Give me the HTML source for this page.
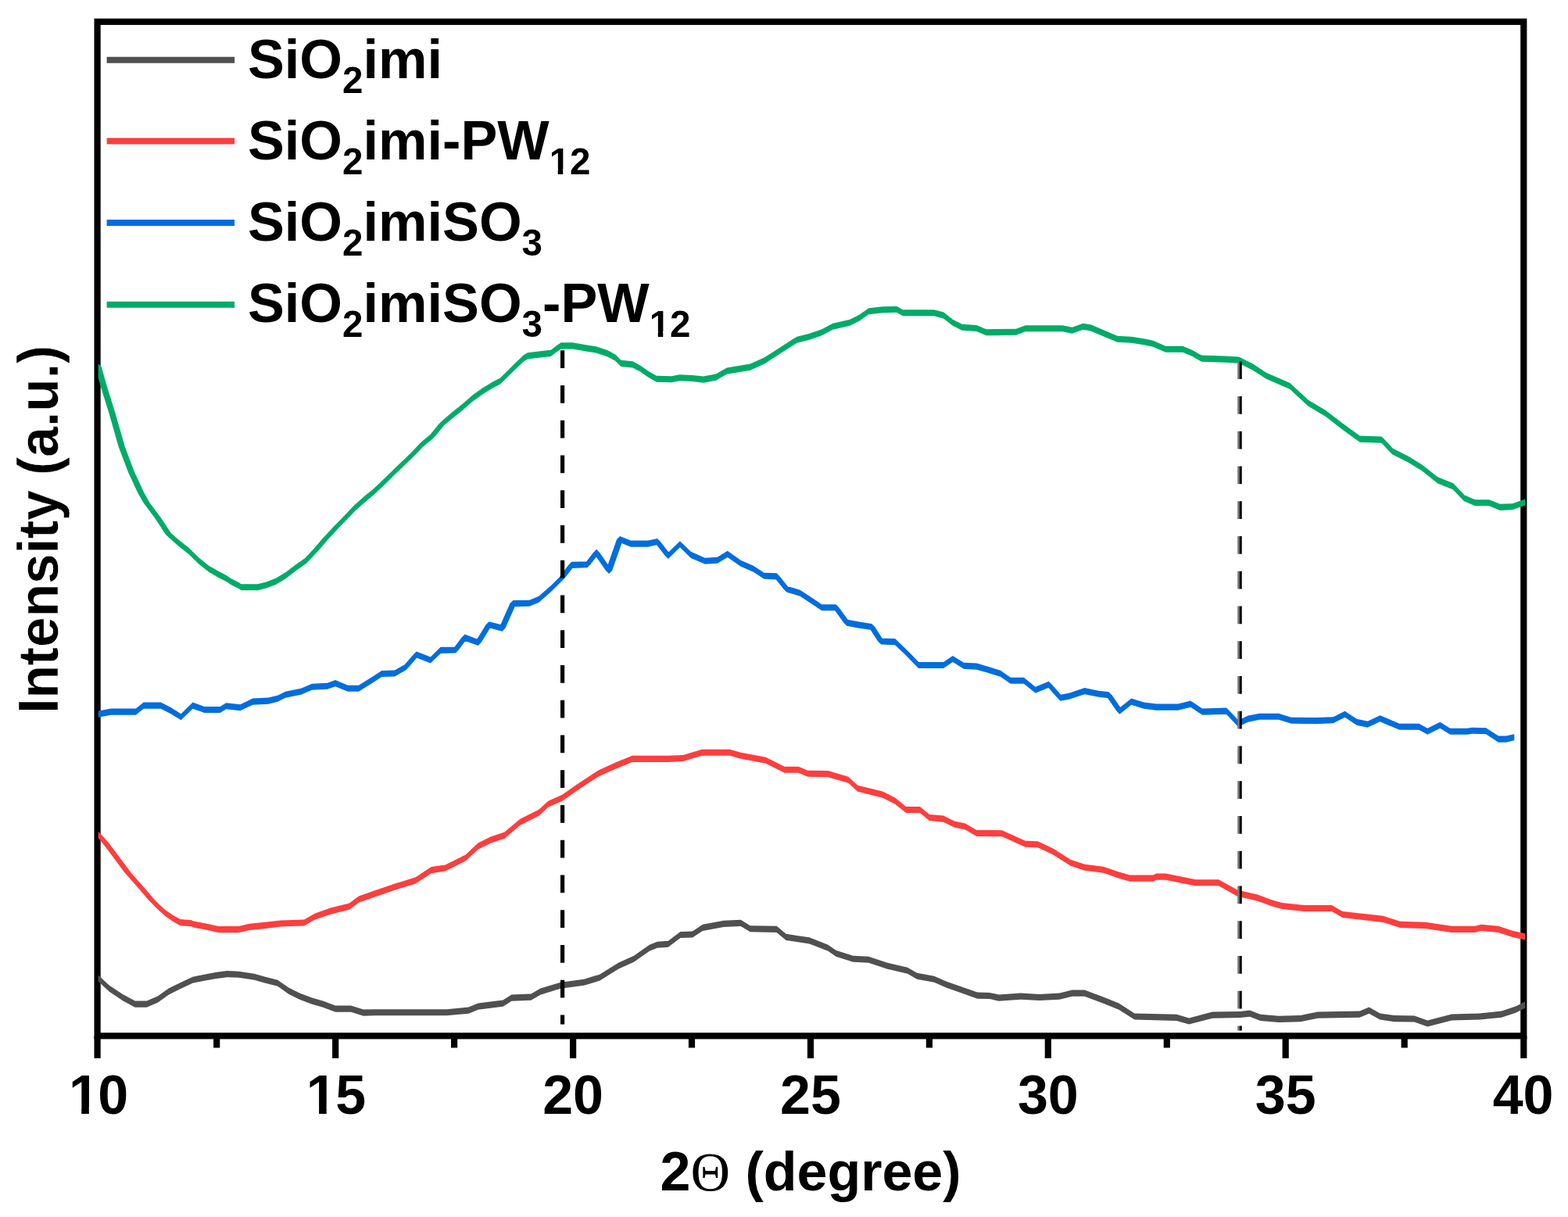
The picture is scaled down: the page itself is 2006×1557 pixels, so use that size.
<!DOCTYPE html>
<html lang="en"><head><meta charset="utf-8"><title>XRD patterns</title>
<style>html,body{margin:0;padding:0;background:#fff;}body{width:2006px;height:1557px;overflow:hidden;}svg{display:block;}text{font-family:"Liberation Sans",sans-serif;font-weight:bold;fill:#000;}</style></head><body>
<svg width="2006" height="1557" viewBox="0 0 2006 1557">
<rect x="0" y="0" width="2006" height="1557" fill="#ffffff"/>
<defs><clipPath id="nofoot" clipPathUnits="userSpaceOnUse"><path clip-rule="evenodd" fill-rule="evenodd" d="M0 0H2006V1557H0Z M704.14 216.35H713.74V225.20H704.14Z M720.26 216.35H729.25V225.20H720.26Z M832.14 424.05H841.74V432.90H832.14Z M848.26 424.05H857.25V432.90H848.26Z M90.79 1416.16H104.22V1427.30H90.79Z M113.83 1416.16H126.37V1427.30H113.83Z M394.67 1416.16H408.10V1427.30H394.67Z M417.71 1416.16H430.25V1427.30H417.71Z"/></clipPath></defs>
<rect x="124.6" y="27.8" width="1824.7" height="1297.5" fill="none" stroke="#000" stroke-width="8.2"/>
<g stroke="#000" stroke-width="8.2">
<line x1="124.6" y1="1325.3" x2="124.6" y2="1353.9"/>
<line x1="277.2" y1="1325.3" x2="277.2" y2="1340.5"/>
<line x1="429.2" y1="1325.3" x2="429.2" y2="1353.9"/>
<line x1="581.1" y1="1325.3" x2="581.1" y2="1340.5"/>
<line x1="733.1" y1="1325.3" x2="733.1" y2="1353.9"/>
<line x1="885.0" y1="1325.3" x2="885.0" y2="1340.5"/>
<line x1="1037.0" y1="1325.3" x2="1037.0" y2="1353.9"/>
<line x1="1188.9" y1="1325.3" x2="1188.9" y2="1340.5"/>
<line x1="1340.8" y1="1325.3" x2="1340.8" y2="1353.9"/>
<line x1="1492.8" y1="1325.3" x2="1492.8" y2="1340.5"/>
<line x1="1644.7" y1="1325.3" x2="1644.7" y2="1353.9"/>
<line x1="1796.7" y1="1325.3" x2="1796.7" y2="1340.5"/>
<line x1="1949.3" y1="1325.3" x2="1949.3" y2="1353.9"/>
</g>
<g stroke="none" fill-rule="nonzero">
<clipPath id="clip-gray" clipPathUnits="userSpaceOnUse"><rect x="125.7" y="0" width="1825.3" height="1557"/></clipPath>
<path fill="#505050" clip-path="url(#clip-gray)" d="M121.65 1251.56L125.7 1247.51L125.9 1247.65L129.95 1251.7L125.9 1255.75L125.7 1255.61ZM121.85 1251.7L125.9 1247.65L139.9 1260.65L143.95 1264.7L139.9 1268.75L125.9 1255.75ZM135.85 1264.7L139.9 1260.65L157.8 1272.55L161.85 1276.6L157.8 1280.65L139.9 1268.75ZM153.75 1276.6L157.8 1272.55L172.8 1280.55L176.85 1284.6L172.8 1288.65L157.8 1280.65ZM168.75 1284.6L172.8 1280.55L187.7 1280.55L191.75 1284.6L187.7 1288.65L172.8 1288.65ZM183.65 1284.6L187.7 1280.55L201.7 1274.55L205.75 1278.6L201.7 1282.65L187.7 1288.65ZM197.65 1278.6L201.7 1274.55L215.7 1264.55L219.75 1268.6L215.7 1272.65L201.7 1282.65ZM211.65 1268.6L215.7 1264.55L231.6 1256.65L235.65 1260.7L231.6 1264.75L215.7 1272.65ZM227.55 1260.7L231.6 1256.65L246.6 1249.65L250.65 1253.7L246.6 1257.75L231.6 1264.75ZM242.55 1253.7L246.6 1249.65L261.5 1246.65L265.55 1250.7L261.5 1254.75L246.6 1257.75ZM257.45 1250.7L261.5 1246.65L275.5 1244.05L279.55 1248.1L275.5 1252.15L261.5 1254.75ZM271.45 1248.1L275.5 1244.05L290.4 1242.05L294.45 1246.1L290.4 1250.15L275.5 1252.15ZM286.35 1246.1L290.4 1242.05L305.4 1242.65L309.45 1246.7L305.4 1250.75L290.4 1250.15ZM301.35 1246.7L305.4 1242.65L325.3 1245.65L329.35 1249.7L325.3 1253.75L305.4 1250.75ZM321.25 1249.7L325.3 1245.65L339.3 1249.65L343.35 1253.7L339.3 1257.75L325.3 1253.75ZM335.25 1253.7L339.3 1249.65L355.2 1253.65L359.25 1257.7L355.2 1261.75L339.3 1257.75ZM351.15 1257.7L355.2 1253.65L369.2 1263.55L373.25 1267.6L369.2 1271.65L355.2 1261.75ZM365.15 1267.6L369.2 1263.55L383.2 1270.55L387.25 1274.6L383.2 1278.65L369.2 1271.65ZM379.15 1274.6L383.2 1270.55L399.1 1276.55L403.15 1280.6L399.1 1284.65L383.2 1278.65ZM395.05 1280.6L399.1 1276.55L413.1 1280.55L417.15 1284.6L413.1 1288.65L399.1 1284.65ZM409.05 1284.6L413.1 1280.55L429 1286.55L433.05 1290.6L429 1294.65L413.1 1288.65ZM424.95 1290.6L429 1286.55L449 1286.55L453.05 1290.6L449 1294.65L429 1294.65ZM444.95 1290.6L449 1286.55L464.9 1291.55L468.95 1295.6L464.9 1299.65L449 1294.65ZM460.85 1295.6L464.9 1291.55L480 1291.15L484.05 1295.2L480 1299.25L464.9 1299.65ZM475.95 1295.2L480 1291.15L571.7 1291.15L575.75 1295.2L571.7 1299.25L480 1299.25ZM567.65 1295.2L571.7 1291.15L599.6 1288.55L603.65 1292.6L599.6 1296.65L571.7 1299.25ZM595.55 1292.6L599.6 1288.55L611.6 1283.55L615.65 1287.6L611.6 1291.65L599.6 1296.65ZM607.55 1287.6L611.6 1283.55L643.5 1279.55L647.55 1283.6L643.5 1287.65L611.6 1291.65ZM639.45 1283.6L643.5 1279.55L654.5 1272.55L658.55 1276.6L654.5 1280.65L643.5 1287.65ZM650.45 1276.6L654.5 1272.55L679.4 1271.55L683.45 1275.6L679.4 1279.65L654.5 1280.65ZM675.35 1275.6L679.4 1271.55L691.4 1264.55L695.45 1268.6L691.4 1272.65L679.4 1279.65ZM687.35 1268.6L691.4 1264.55L717.3 1256.65L721.35 1260.7L717.3 1264.75L691.4 1272.65ZM713.25 1260.7L717.3 1256.65L747.2 1252.65L751.25 1256.7L747.2 1260.75L717.3 1264.75ZM743.15 1256.7L747.2 1252.65L767.1 1246.65L771.15 1250.7L767.1 1254.75L747.2 1260.75ZM763.05 1250.7L767.1 1246.65L791.1 1231.65L795.15 1235.7L791.1 1239.75L767.1 1254.75ZM787.05 1235.7L791.1 1231.65L811 1222.75L815.05 1226.8L811 1230.85L791.1 1239.75ZM806.95 1226.8L811 1222.75L830.9 1208.75L834.95 1212.8L830.9 1216.85L811 1230.85ZM826.85 1212.8L830.9 1208.75L840.9 1204.75L844.95 1208.8L840.9 1212.85L830.9 1216.85ZM836.85 1208.8L840.9 1204.75L854.9 1203.75L858.95 1207.8L854.9 1211.85L840.9 1212.85ZM850.85 1207.8L854.9 1203.75L870.4 1191.95L874.45 1196L870.4 1200.05L854.9 1211.85ZM866.35 1196L870.4 1191.95L885.9 1191.45L889.95 1195.5L885.9 1199.55L870.4 1200.05ZM881.85 1195.5L885.9 1191.45L898.9 1182.85L902.95 1186.9L898.9 1190.95L885.9 1199.55ZM894.85 1186.9L898.9 1182.85L925.8 1177.85L929.85 1181.9L925.8 1185.95L898.9 1190.95ZM921.75 1181.9L925.8 1177.85L947.7 1176.85L951.75 1180.9L947.7 1184.95L925.8 1185.95ZM943.65 1180.9L947.7 1176.85L959.7 1184.25L963.75 1188.3L959.7 1192.35L947.7 1184.95ZM955.65 1188.3L959.7 1184.25L993.6 1184.85L997.65 1188.9L993.6 1192.95L959.7 1192.35ZM989.55 1188.9L993.6 1184.85L1005.6 1194.85L1009.65 1198.9L1005.6 1202.95L993.6 1192.95ZM1001.55 1198.9L1005.6 1194.85L1035.5 1199.35L1039.55 1203.4L1035.5 1207.45L1005.6 1202.95ZM1031.45 1203.4L1035.5 1199.35L1059.4 1208.75L1063.45 1212.8L1059.4 1216.85L1035.5 1207.45ZM1055.35 1212.8L1059.4 1208.75L1069.4 1215.75L1073.45 1219.8L1069.4 1223.85L1059.4 1216.85ZM1065.35 1219.8L1069.4 1215.75L1091.3 1222.75L1095.35 1226.8L1091.3 1230.85L1069.4 1223.85ZM1087.25 1226.8L1091.3 1222.75L1111.2 1223.75L1115.25 1227.8L1111.2 1231.85L1091.3 1230.85ZM1107.15 1227.8L1111.2 1223.75L1135.2 1231.65L1139.25 1235.7L1135.2 1239.75L1111.2 1231.85ZM1131.15 1235.7L1135.2 1231.65L1161.1 1237.65L1165.15 1241.7L1161.1 1245.75L1135.2 1239.75ZM1157.05 1241.7L1161.1 1237.65L1173.1 1244.65L1177.15 1248.7L1173.1 1252.75L1161.1 1245.75ZM1169.05 1248.7L1173.1 1244.65L1195 1248.65L1199.05 1252.7L1195 1256.75L1173.1 1252.75ZM1190.95 1252.7L1195 1248.65L1211 1255.65L1215.05 1259.7L1211 1263.75L1195 1256.75ZM1206.95 1259.7L1211 1255.65L1250.4 1269.55L1254.45 1273.6L1250.4 1277.65L1211 1263.75ZM1246.35 1273.6L1250.4 1269.55L1265.9 1269.95L1269.95 1274L1265.9 1278.05L1250.4 1277.65ZM1261.85 1274L1265.9 1269.95L1277.9 1272.55L1281.95 1276.6L1277.9 1280.65L1265.9 1278.05ZM1273.85 1276.6L1277.9 1272.55L1305.8 1270.55L1309.85 1274.6L1305.8 1278.65L1277.9 1280.65ZM1301.75 1274.6L1305.8 1270.55L1329.7 1271.95L1333.75 1276L1329.7 1280.05L1305.8 1278.65ZM1325.65 1276L1329.7 1271.95L1355.7 1270.55L1359.75 1274.6L1355.7 1278.65L1329.7 1280.05ZM1351.65 1274.6L1355.7 1270.55L1371.6 1266.55L1375.65 1270.6L1371.6 1274.65L1355.7 1278.65ZM1367.55 1270.6L1371.6 1266.55L1387.6 1266.55L1391.65 1270.6L1387.6 1274.65L1371.6 1274.65ZM1383.55 1270.6L1387.6 1266.55L1411.5 1275.55L1415.55 1279.6L1411.5 1283.65L1387.6 1274.65ZM1407.45 1279.6L1411.5 1275.55L1431.4 1283.55L1435.45 1287.6L1431.4 1291.65L1411.5 1283.65ZM1427.35 1287.6L1431.4 1283.55L1451.4 1296.45L1455.45 1300.5L1451.4 1304.55L1431.4 1291.65ZM1447.35 1300.5L1451.4 1296.45L1505.2 1297.85L1509.25 1301.9L1505.2 1305.95L1451.4 1304.55ZM1501.15 1301.9L1505.2 1297.85L1521.2 1302.45L1525.25 1306.5L1521.2 1310.55L1505.2 1305.95ZM1517.15 1306.5L1521.2 1302.45L1551.1 1294.55L1555.15 1298.6L1551.1 1302.65L1521.2 1310.55ZM1547.05 1298.6L1551.1 1294.55L1587 1293.95L1591.05 1298L1587 1302.05L1551.1 1302.65ZM1582.95 1298L1587 1293.95L1598.9 1292.55L1602.95 1296.6L1598.9 1300.65L1587 1302.05ZM1594.85 1296.6L1598.9 1292.55L1612.5 1297.85L1616.55 1301.9L1612.5 1305.95L1598.9 1300.65ZM1608.45 1301.9L1612.5 1297.85L1635.9 1299.85L1639.95 1303.9L1635.9 1307.95L1612.5 1305.95ZM1631.85 1303.9L1635.9 1299.85L1663.8 1299.05L1667.85 1303.1L1663.8 1307.15L1635.9 1307.95ZM1659.75 1303.1L1663.8 1299.05L1685.7 1294.55L1689.75 1298.6L1685.7 1302.65L1663.8 1307.15ZM1681.65 1298.6L1685.7 1294.55L1739.6 1293.55L1743.65 1297.6L1739.6 1301.65L1685.7 1302.65ZM1735.55 1297.6L1739.6 1293.55L1751.5 1288.55L1755.55 1292.6L1751.5 1296.65L1739.6 1301.65ZM1747.45 1292.6L1751.5 1288.55L1765.5 1296.45L1769.55 1300.5L1765.5 1304.55L1751.5 1296.65ZM1761.45 1300.5L1765.5 1296.45L1783.5 1299.05L1787.55 1303.1L1783.5 1307.15L1765.5 1304.55ZM1779.45 1303.1L1783.5 1299.05L1809.4 1299.45L1813.45 1303.5L1809.4 1307.55L1783.5 1307.15ZM1805.35 1303.5L1809.4 1299.45L1826.3 1305.45L1830.35 1309.5L1826.3 1313.55L1809.4 1307.55ZM1822.25 1309.5L1826.3 1305.45L1857.2 1297.45L1861.25 1301.5L1857.2 1305.55L1826.3 1313.55ZM1853.15 1301.5L1857.2 1297.45L1893.1 1296.45L1897.15 1300.5L1893.1 1304.55L1857.2 1305.55ZM1889.05 1300.5L1893.1 1296.45L1921 1293.55L1925.05 1297.6L1921 1301.65L1893.1 1304.55ZM1916.95 1297.6L1921 1293.55L1939 1287.55L1943.05 1291.6L1939 1295.65L1921 1301.65ZM1934.95 1291.6L1939 1287.55L1949 1282.55L1953.05 1286.6L1949 1290.65L1939 1295.65ZM1944.95 1286.6L1949 1282.55L1951 1281.55L1955.05 1285.6L1951 1289.65L1949 1290.65Z"/>
<clipPath id="clip-red" clipPathUnits="userSpaceOnUse"><rect x="125.7" y="0" width="1825.3" height="1557"/></clipPath>
<path fill="#FC3E3E" clip-path="url(#clip-red)" d="M121.75 1067.9L125.8 1063.85L129.85 1067.9L138.35 1077.5L134.3 1081.55L130.25 1077.5ZM130.25 1077.5L134.3 1073.45L138.35 1077.5L147.95 1090L143.9 1094.05L139.85 1090ZM139.85 1090L143.9 1085.95L147.95 1090L157.55 1103L153.5 1107.05L149.45 1103ZM149.45 1103L153.5 1098.95L157.55 1103L167.25 1116L163.2 1120.05L159.15 1116ZM159.15 1116L163.2 1111.95L167.25 1116L176.85 1127.1L172.8 1131.15L168.75 1127.1ZM168.75 1127.1L172.8 1123.05L176.85 1127.1L186.45 1137.7L182.4 1141.75L178.35 1137.7ZM178.35 1137.7L182.4 1133.65L186.45 1137.7L196.15 1149.2L192.1 1153.25L188.05 1149.2ZM188.05 1149.2L192.1 1145.15L196.15 1149.2L205.75 1159.3L201.7 1163.35L197.65 1159.3ZM197.65 1159.3L201.7 1155.25L211.3 1163.95L215.35 1168L211.3 1172.05L201.7 1163.35ZM207.25 1168L211.3 1163.95L221 1170.75L225.05 1174.8L221 1178.85L211.3 1172.05ZM216.95 1174.8L221 1170.75L230.6 1176.05L234.65 1180.1L230.6 1184.15L221 1178.85ZM226.55 1180.1L230.6 1176.05L245 1177.15L249.05 1181.2L245 1185.25L230.6 1184.15ZM240.95 1181.2L245 1177.15L247.6 1178.45L251.65 1182.5L247.6 1186.55L245 1185.25ZM243.55 1182.5L247.6 1178.45L263.5 1181.45L267.55 1185.5L263.5 1189.55L247.6 1186.55ZM259.45 1185.5L263.5 1181.45L279.5 1185.05L283.55 1189.1L279.5 1193.15L263.5 1189.55ZM275.45 1189.1L279.5 1185.05L305.4 1185.05L309.45 1189.1L305.4 1193.15L279.5 1193.15ZM301.35 1189.1L305.4 1185.05L319.3 1181.85L323.35 1185.9L319.3 1189.95L305.4 1193.15ZM315.25 1185.9L319.3 1181.85L339.3 1179.85L343.35 1183.9L339.3 1187.95L319.3 1189.95ZM335.25 1183.9L339.3 1179.85L359.2 1177.45L363.25 1181.5L359.2 1185.55L339.3 1187.95ZM355.15 1181.5L359.2 1177.45L389.1 1176.45L393.15 1180.5L389.1 1184.55L359.2 1185.55ZM385.05 1180.5L389.1 1176.45L403.1 1168.45L407.15 1172.5L403.1 1176.55L389.1 1184.55ZM399.05 1172.5L403.1 1168.45L423 1161.55L427.05 1165.6L423 1169.65L403.1 1176.55ZM418.95 1165.6L423 1161.55L447 1155.55L451.05 1159.6L447 1163.65L423 1169.65ZM442.95 1159.6L447 1155.55L458.9 1146.55L462.95 1150.6L458.9 1154.65L447 1163.65ZM454.85 1150.6L458.9 1146.55L478.9 1139.55L482.95 1143.6L478.9 1147.65L458.9 1154.65ZM474.85 1143.6L478.9 1139.55L505.9 1130.35L509.95 1134.4L505.9 1138.45L478.9 1147.65ZM501.85 1134.4L505.9 1130.35L531.8 1122.35L535.85 1126.4L531.8 1130.45L505.9 1138.45ZM527.75 1126.4L531.8 1122.35L551.8 1109.05L555.85 1113.1L551.8 1117.15L531.8 1130.45ZM547.75 1113.1L551.8 1109.05L569.7 1106.45L573.75 1110.5L569.7 1114.55L551.8 1117.15ZM565.65 1110.5L569.7 1106.45L595.7 1093.45L599.75 1097.5L595.7 1101.55L569.7 1114.55ZM591.65 1097.5L595.7 1093.45L611.6 1078.55L615.65 1082.6L611.6 1086.65L595.7 1101.55ZM607.55 1082.6L611.6 1078.55L627.6 1070.55L631.65 1074.6L627.6 1078.65L611.6 1086.65ZM623.55 1074.6L627.6 1070.55L645.5 1064.55L649.55 1068.6L645.5 1072.65L627.6 1078.65ZM641.45 1068.6L645.5 1064.55L665.4 1047.65L669.45 1051.7L665.4 1055.75L645.5 1072.65ZM661.35 1051.7L665.4 1047.65L689.4 1035.65L693.45 1039.7L689.4 1043.75L665.4 1055.75ZM685.35 1039.7L689.4 1035.65L701.3 1024.65L705.35 1028.7L701.3 1032.75L689.4 1043.75ZM697.25 1028.7L701.3 1024.65L719.3 1016.75L723.35 1020.8L719.3 1024.85L701.3 1032.75ZM715.25 1020.8L719.3 1016.75L739.2 1002.75L743.25 1006.8L739.2 1010.85L719.3 1024.85ZM735.15 1006.8L739.2 1002.75L765.1 985.75L769.15 989.8L765.1 993.85L739.2 1010.85ZM761.05 989.8L765.1 985.75L789.1 974.85L793.15 978.9L789.1 982.95L765.1 993.85ZM785.05 978.9L789.1 974.85L809 966.85L813.05 970.9L809 974.95L789.1 982.95ZM804.95 970.9L809 966.85L854.9 966.85L858.95 970.9L854.9 974.95L809 974.95ZM850.85 970.9L854.9 966.85L874 965.95L878.05 970L874 974.05L854.9 974.95ZM869.95 970L874 965.95L897.9 958.75L901.95 962.8L897.9 966.85L874 974.05ZM893.85 962.8L897.9 958.75L933.8 958.75L937.85 962.8L933.8 966.85L897.9 966.85ZM929.75 962.8L933.8 958.75L947.7 962.75L951.75 966.8L947.7 970.85L933.8 966.85ZM943.65 966.8L947.7 962.75L979.6 968.75L983.65 972.8L979.6 976.85L947.7 970.85ZM975.55 972.8L979.6 968.75L1003.6 980.65L1007.65 984.7L1003.6 988.75L979.6 976.85ZM999.55 984.7L1003.6 980.65L1021.5 980.65L1025.55 984.7L1021.5 988.75L1003.6 988.75ZM1017.45 984.7L1021.5 980.65L1033.5 985.65L1037.55 989.7L1033.5 993.75L1021.5 988.75ZM1029.45 989.7L1033.5 985.65L1059.4 986.05L1063.45 990.1L1059.4 994.15L1033.5 993.75ZM1055.35 990.1L1059.4 986.05L1085.3 993.65L1089.35 997.7L1085.3 1001.75L1059.4 994.15ZM1081.25 997.7L1085.3 993.65L1097.3 1004.65L1101.35 1008.7L1097.3 1012.75L1085.3 1001.75ZM1093.25 1008.7L1097.3 1004.65L1129.2 1012.55L1133.25 1016.6L1129.2 1020.65L1097.3 1012.75ZM1125.15 1016.6L1129.2 1012.55L1145.1 1020.55L1149.15 1024.6L1145.1 1028.65L1129.2 1020.65ZM1141.05 1024.6L1145.1 1020.55L1159.1 1031.95L1163.15 1036L1159.1 1040.05L1145.1 1028.65ZM1155.05 1036L1159.1 1031.95L1177 1031.95L1181.05 1036L1177 1040.05L1159.1 1040.05ZM1172.95 1036L1177 1031.95L1189 1041.95L1193.05 1046L1189 1050.05L1177 1040.05ZM1184.95 1046L1189 1041.95L1207 1043.55L1211.05 1047.6L1207 1051.65L1189 1050.05ZM1202.95 1047.6L1207 1043.55L1220.9 1050.45L1224.95 1054.5L1220.9 1058.55L1207 1051.65ZM1216.85 1054.5L1220.9 1050.45L1234.9 1053.45L1238.95 1057.5L1234.9 1061.55L1220.9 1058.55ZM1230.85 1057.5L1234.9 1053.45L1249.4 1061.95L1253.45 1066L1249.4 1070.05L1234.9 1061.55ZM1245.35 1066L1249.4 1061.95L1281.9 1062.15L1285.95 1066.2L1281.9 1070.25L1249.4 1070.05ZM1277.85 1066.2L1281.9 1062.15L1311.8 1075.75L1315.85 1079.8L1311.8 1083.85L1281.9 1070.25ZM1307.75 1079.8L1311.8 1075.75L1327.7 1076.15L1331.75 1080.2L1327.7 1084.25L1311.8 1083.85ZM1323.65 1080.2L1327.7 1076.15L1347.7 1085.65L1351.75 1089.7L1347.7 1093.75L1327.7 1084.25ZM1343.65 1089.7L1347.7 1085.65L1369.6 1099.65L1373.65 1103.7L1369.6 1107.75L1347.7 1093.75ZM1365.55 1103.7L1369.6 1099.65L1387.6 1105.65L1391.65 1109.7L1387.6 1113.75L1369.6 1107.75ZM1383.55 1109.7L1387.6 1105.65L1411.5 1108.65L1415.55 1112.7L1411.5 1116.75L1387.6 1113.75ZM1407.45 1112.7L1411.5 1108.65L1431.4 1115.55L1435.45 1119.6L1431.4 1123.65L1411.5 1116.75ZM1427.35 1119.6L1431.4 1115.55L1445.4 1119.55L1449.45 1123.6L1445.4 1127.65L1431.4 1123.65ZM1441.35 1123.6L1445.4 1119.55L1475.3 1119.55L1479.35 1123.6L1475.3 1127.65L1445.4 1127.65ZM1471.25 1123.6L1475.3 1119.55L1479.3 1117.55L1483.35 1121.6L1479.3 1125.65L1475.3 1127.65ZM1475.25 1121.6L1479.3 1117.55L1491.2 1117.55L1495.25 1121.6L1491.2 1125.65L1479.3 1125.65ZM1487.15 1121.6L1491.2 1117.55L1511.2 1121.55L1515.25 1125.6L1511.2 1129.65L1491.2 1125.65ZM1507.15 1125.6L1511.2 1121.55L1529.1 1125.15L1533.15 1129.2L1529.1 1133.25L1511.2 1129.65ZM1525.05 1129.2L1529.1 1125.15L1559 1125.15L1563.05 1129.2L1559 1133.25L1529.1 1133.25ZM1554.95 1129.2L1559 1125.15L1583 1138.55L1587.05 1142.6L1583 1146.65L1559 1133.25ZM1578.95 1142.6L1583 1138.55L1608.9 1144.55L1612.95 1148.6L1608.9 1152.65L1583 1146.65ZM1604.85 1148.6L1608.9 1144.55L1626 1150.95L1630.05 1155L1626 1159.05L1608.9 1152.65ZM1621.95 1155L1626 1150.95L1640 1154.95L1644.05 1159L1640 1163.05L1626 1159.05ZM1635.95 1159L1640 1154.95L1667.8 1157.95L1671.85 1162L1667.8 1166.05L1640 1163.05ZM1663.75 1162L1667.8 1157.95L1703.7 1157.95L1707.75 1162L1703.7 1166.05L1667.8 1166.05ZM1699.65 1162L1703.7 1157.95L1717.6 1165.95L1721.65 1170L1717.6 1174.05L1703.7 1166.05ZM1713.55 1170L1717.6 1165.95L1769.5 1171.85L1773.55 1175.9L1769.5 1179.95L1717.6 1174.05ZM1765.45 1175.9L1769.5 1171.85L1791.4 1178.85L1795.45 1182.9L1791.4 1186.95L1769.5 1179.95ZM1787.35 1182.9L1791.4 1178.85L1823.3 1179.85L1827.35 1183.9L1823.3 1187.95L1791.4 1186.95ZM1819.25 1183.9L1823.3 1179.85L1857.2 1184.85L1861.25 1188.9L1857.2 1192.95L1823.3 1187.95ZM1853.15 1188.9L1857.2 1184.85L1887.1 1184.85L1891.15 1188.9L1887.1 1192.95L1857.2 1192.95ZM1883.05 1188.9L1887.1 1184.85L1895 1182.85L1899.05 1186.9L1895 1190.95L1887.1 1192.95ZM1890.95 1186.9L1895 1182.85L1917 1184.85L1921.05 1188.9L1917 1192.95L1895 1190.95ZM1912.95 1188.9L1917 1184.85L1935 1190.85L1939.05 1194.9L1935 1198.95L1917 1192.95ZM1930.95 1194.9L1935 1190.85L1949 1193.85L1953.05 1197.9L1949 1201.95L1935 1198.95ZM1944.95 1197.9L1949 1193.85L1951 1194.28L1955.05 1198.33L1951 1202.38L1949 1201.95Z"/>
<clipPath id="clip-blue" clipPathUnits="userSpaceOnUse"><rect x="125.7" y="0" width="1811.6" height="1557"/></clipPath>
<path fill="#006DDD" clip-path="url(#clip-blue)" d="M121.65 913.65L125.7 909.6L125.9 909.55L129.95 913.6L125.9 917.65L125.7 917.7ZM121.85 913.6L125.9 909.55L141.9 906.55L145.95 910.6L141.9 914.65L125.9 917.65ZM137.85 910.6L141.9 906.55L173.8 906.55L177.85 910.6L173.8 914.65L141.9 914.65ZM169.75 910.6L173.8 906.55L183.7 898.55L187.75 902.6L183.7 906.65L173.8 914.65ZM179.65 902.6L183.7 898.55L205.7 898.55L209.75 902.6L205.7 906.65L183.7 906.65ZM201.65 902.6L205.7 898.55L217.6 904.55L221.65 908.6L217.6 912.65L205.7 906.65ZM213.55 908.6L217.6 904.55L231.6 913.15L235.65 917.2L231.6 921.25L217.6 912.65ZM227.55 917.2L231.6 913.15L246.6 898.55L250.65 902.6L246.6 906.65L231.6 921.25ZM242.55 902.6L246.6 898.55L261.5 903.95L265.55 908L261.5 912.05L246.6 906.65ZM257.45 908L261.5 903.95L281.5 903.95L285.55 908L281.5 912.05L261.5 912.05ZM277.45 908L281.5 903.95L289.4 899.15L293.45 903.2L289.4 907.25L281.5 912.05ZM285.35 903.2L289.4 899.15L307.4 901.15L311.45 905.2L307.4 909.25L289.4 907.25ZM303.35 905.2L307.4 901.15L323.3 893.55L327.35 897.6L323.3 901.65L307.4 909.25ZM319.25 897.6L323.3 893.55L343.3 892.55L347.35 896.6L343.3 900.65L323.3 901.65ZM339.25 896.6L343.3 892.55L355.2 889.65L359.25 893.7L355.2 897.75L343.3 900.65ZM351.15 893.7L355.2 889.65L365.2 884.65L369.25 888.7L365.2 892.75L355.2 897.75ZM361.15 888.7L365.2 884.65L385.1 880.65L389.15 884.7L385.1 888.75L365.2 892.75ZM381.05 884.7L385.1 880.65L399.1 874.65L403.15 878.7L399.1 882.75L385.1 888.75ZM395.05 878.7L399.1 874.65L419 873.65L423.05 877.7L419 881.75L399.1 882.75ZM414.95 877.7L419 873.65L429 870.05L433.05 874.1L429 878.15L419 881.75ZM424.95 874.1L429 870.05L445 876.65L449.05 880.7L445 884.75L429 878.15ZM440.95 880.7L445 876.65L458.9 876.65L462.95 880.7L458.9 884.75L445 884.75ZM454.85 880.7L458.9 876.65L474.9 866.65L478.95 870.7L474.9 874.75L458.9 884.75ZM470.85 870.7L474.9 866.65L488.4 857.95L492.45 862L488.4 866.05L474.9 874.75ZM484.35 862L488.4 857.95L504.9 857.45L508.95 861.5L504.9 865.55L488.4 866.05ZM500.85 861.5L504.9 857.45L518.9 849.45L522.95 853.5L518.9 857.55L504.9 865.55ZM514.85 853.5L528.75 837.5L532.8 833.45L536.85 837.5L522.95 853.5L518.9 857.55ZM528.75 837.5L532.8 833.45L550.8 840.45L554.85 844.5L550.8 848.55L532.8 841.55ZM546.75 844.5L550.8 840.45L563.7 827.85L567.75 831.9L563.7 835.95L550.8 848.55ZM559.65 831.9L563.7 827.85L582.7 827.45L586.75 831.5L582.7 835.55L563.7 835.95ZM578.65 831.5L590.65 815.6L594.7 811.55L598.75 815.6L586.75 831.5L582.7 835.55ZM590.65 815.6L594.7 811.55L611.6 817.95L615.65 822L611.6 826.05L594.7 819.65ZM607.55 822L621.55 799.2L625.6 795.15L629.65 799.2L615.65 822L611.6 826.05ZM621.55 799.2L625.6 795.15L642.5 799.55L646.55 803.6L642.5 807.65L625.6 803.25ZM638.45 803.6L652.45 772.1L656.5 768.05L660.55 772.1L646.55 803.6L642.5 807.65ZM652.45 772.1L656.5 768.05L677.4 767.65L681.45 771.7L677.4 775.75L656.5 776.15ZM673.35 771.7L677.4 767.65L689.4 762.65L693.45 766.7L689.4 770.75L677.4 775.75ZM685.35 766.7L689.4 762.65L705.3 748.75L709.35 752.8L705.3 756.85L689.4 770.75ZM701.25 752.8L719.3 734.75L723.35 738.8L705.3 756.85ZM715.25 738.8L727.15 722.9L731.2 718.85L735.25 722.9L723.35 738.8L719.3 742.85ZM727.15 722.9L731.2 718.85L751.2 718.25L755.25 722.3L751.2 726.35L731.2 726.95ZM747.15 722.3L759.05 706.9L763.1 702.85L767.15 706.9L755.25 722.3L751.2 726.35ZM759.05 706.9L763.1 702.85L767.15 706.9L783.15 729.9L779.1 733.95L775.05 729.9ZM775.05 729.9L789.05 690L793.1 685.95L797.15 690L783.15 729.9L779.1 733.95ZM789.05 690L793.1 685.95L807 691.55L811.05 695.6L807 699.65L793.1 694.05ZM802.95 695.6L807 691.55L829 691.55L833.05 695.6L829 699.65L807 699.65ZM824.95 695.6L829 691.55L840.9 688.95L844.95 693L840.9 697.05L829 699.65ZM836.85 693L840.9 688.95L844.95 693L858.95 710.9L854.9 714.95L850.85 710.9ZM850.85 710.9L854.9 706.85L869.9 692.15L873.95 696.2L869.9 700.25L854.9 714.95ZM865.85 696.2L869.9 692.15L883.9 705.85L887.95 709.9L883.9 713.95L869.9 700.25ZM879.85 709.9L883.9 705.85L901.9 713.75L905.95 717.8L901.9 721.85L883.9 713.95ZM897.85 717.8L901.9 713.75L917.8 712.75L921.85 716.8L917.8 720.85L901.9 721.85ZM913.75 716.8L917.8 712.75L930.8 704.85L934.85 708.9L930.8 712.95L917.8 720.85ZM926.75 708.9L930.8 704.85L947.7 716.75L951.75 720.8L947.7 724.85L930.8 712.95ZM943.65 720.8L947.7 716.75L963.7 723.75L967.75 727.8L963.7 731.85L947.7 724.85ZM959.65 727.8L963.7 723.75L977.6 732.75L981.65 736.8L977.6 740.85L963.7 731.85ZM973.55 736.8L977.6 732.75L993.6 733.35L997.65 737.4L993.6 741.45L977.6 740.85ZM989.55 737.4L993.6 733.35L997.65 737.4L1010.65 753.7L1006.6 757.75L1002.55 753.7ZM1002.55 753.7L1006.6 749.65L1023.5 754.65L1027.55 758.7L1023.5 762.75L1006.6 757.75ZM1019.45 758.7L1023.5 754.65L1051.4 773.15L1055.45 777.2L1051.4 781.25L1023.5 762.75ZM1047.35 777.2L1051.4 773.15L1069.4 773.15L1073.45 777.2L1069.4 781.25L1051.4 781.25ZM1065.35 777.2L1069.4 773.15L1073.45 777.2L1087.35 796.6L1083.3 800.65L1079.25 796.6ZM1079.25 796.6L1083.3 792.55L1099.3 795.55L1103.35 799.6L1099.3 803.65L1083.3 800.65ZM1095.25 799.6L1099.3 795.55L1115.2 797.95L1119.25 802L1115.2 806.05L1099.3 803.65ZM1111.15 802L1115.2 797.95L1119.25 802L1131.25 820.5L1127.2 824.55L1123.15 820.5ZM1123.15 820.5L1127.2 816.45L1145.1 817.05L1149.15 821.1L1145.1 825.15L1127.2 824.55ZM1141.05 821.1L1145.1 817.05L1161.1 832.45L1165.15 836.5L1161.1 840.55L1145.1 825.15ZM1157.05 836.5L1161.1 832.45L1165.15 836.5L1179.15 851L1175.1 855.05L1171.05 851ZM1171.05 851L1175.1 846.95L1207 846.95L1211.05 851L1207 855.05L1175.1 855.05ZM1202.95 851L1207 846.95L1218.9 838.95L1222.95 843L1218.9 847.05L1207 855.05ZM1214.85 843L1218.9 838.95L1232.9 847.75L1236.95 851.8L1232.9 855.85L1218.9 847.05ZM1228.85 851.8L1232.9 847.75L1249.4 848.55L1253.45 852.6L1249.4 856.65L1232.9 855.85ZM1245.35 852.6L1249.4 848.55L1263.9 852.75L1267.95 856.8L1263.9 860.85L1249.4 856.65ZM1259.85 856.8L1263.9 852.75L1279.9 857.75L1283.95 861.8L1279.9 865.85L1263.9 860.85ZM1275.85 861.8L1279.9 857.75L1292.8 866.65L1296.85 870.7L1292.8 874.75L1279.9 865.85ZM1288.75 870.7L1292.8 866.65L1309.8 866.65L1313.85 870.7L1309.8 874.75L1292.8 874.75ZM1305.75 870.7L1309.8 866.65L1324.7 878.65L1328.75 882.7L1324.7 886.75L1309.8 874.75ZM1320.65 882.7L1324.7 878.65L1341.7 871.65L1345.75 875.7L1341.7 879.75L1324.7 886.75ZM1337.65 875.7L1341.7 871.65L1345.75 875.7L1360.75 892.7L1356.7 896.75L1352.65 892.7ZM1352.65 892.7L1356.7 888.65L1367.6 886.65L1371.65 890.7L1367.6 894.75L1356.7 896.75ZM1363.55 890.7L1367.6 886.65L1387.6 880.05L1391.65 884.1L1387.6 888.15L1367.6 894.75ZM1383.55 884.1L1387.6 880.05L1405.5 883.65L1409.55 887.7L1405.5 891.75L1387.6 888.15ZM1401.45 887.7L1405.5 883.65L1418.5 885.25L1422.55 889.3L1418.5 893.35L1405.5 891.75ZM1414.45 889.3L1418.5 885.25L1422.55 889.3L1436.45 909.6L1432.4 913.65L1428.35 909.6ZM1428.35 909.6L1432.4 905.55L1447.4 893.55L1451.45 897.6L1447.4 901.65L1432.4 913.65ZM1443.35 897.6L1447.4 893.55L1463.3 898.55L1467.35 902.6L1463.3 906.65L1447.4 901.65ZM1459.25 902.6L1463.3 898.55L1479.3 900.55L1483.35 904.6L1479.3 908.65L1463.3 906.65ZM1475.25 904.6L1479.3 900.55L1507.2 900.55L1511.25 904.6L1507.2 908.65L1479.3 908.65ZM1503.15 904.6L1507.2 900.55L1523.2 896.55L1527.25 900.6L1523.2 904.65L1507.2 908.65ZM1519.15 900.6L1523.2 896.55L1538.1 906.55L1542.15 910.6L1538.1 914.65L1523.2 904.65ZM1534.05 910.6L1538.1 906.55L1569 905.55L1573.05 909.6L1569 913.65L1538.1 914.65ZM1564.95 909.6L1569 905.55L1573.05 909.6L1588.05 925.6L1584 929.65L1579.95 925.6ZM1579.95 925.6L1584 921.55L1596.9 915.55L1600.95 919.6L1596.9 923.65L1584 929.65ZM1592.85 919.6L1596.9 915.55L1611.5 912.65L1615.55 916.7L1611.5 920.75L1596.9 923.65ZM1607.45 916.7L1611.5 912.65L1635.9 912.65L1639.95 916.7L1635.9 920.75L1611.5 920.75ZM1631.85 916.7L1635.9 912.65L1651.8 917.65L1655.85 921.7L1651.8 925.75L1635.9 920.75ZM1647.75 921.7L1651.8 917.65L1683.7 918.05L1687.75 922.1L1683.7 926.15L1651.8 925.75ZM1679.65 922.1L1683.7 918.05L1705.7 917.25L1709.75 921.3L1705.7 925.35L1683.7 926.15ZM1701.65 921.3L1705.7 917.25L1720.6 909.65L1724.65 913.7L1720.6 917.75L1705.7 925.35ZM1716.55 913.7L1720.6 909.65L1735.6 919.65L1739.65 923.7L1735.6 927.75L1720.6 917.75ZM1731.55 923.7L1735.6 919.65L1749.6 922.65L1753.65 926.7L1749.6 930.75L1735.6 927.75ZM1745.55 926.7L1749.6 922.65L1765.5 915.25L1769.55 919.3L1765.5 923.35L1749.6 930.75ZM1761.45 919.3L1765.5 915.25L1790.4 925.65L1794.45 929.7L1790.4 933.75L1765.5 923.35ZM1786.35 929.7L1790.4 925.65L1815.4 925.65L1819.45 929.7L1815.4 933.75L1790.4 933.75ZM1811.35 929.7L1815.4 925.65L1826.3 931.65L1830.35 935.7L1826.3 939.75L1815.4 933.75ZM1822.25 935.7L1826.3 931.65L1842.3 923.65L1846.35 927.7L1842.3 931.75L1826.3 939.75ZM1838.25 927.7L1842.3 923.65L1855.2 931.65L1859.25 935.7L1855.2 939.75L1842.3 931.75ZM1851.15 935.7L1855.2 931.65L1877.2 931.65L1881.25 935.7L1877.2 939.75L1855.2 939.75ZM1873.15 935.7L1877.2 931.65L1883.2 930.65L1887.25 934.7L1883.2 938.75L1877.2 939.75ZM1879.15 934.7L1883.2 930.65L1901.1 931.25L1905.15 935.3L1901.1 939.35L1883.2 938.75ZM1897.05 935.3L1901.1 931.25L1917 941.55L1921.05 945.6L1917 949.65L1901.1 939.35ZM1912.95 945.6L1917 941.55L1927 941.55L1931.05 945.6L1927 949.65L1917 949.65ZM1922.95 945.6L1927 941.55L1937 939.15L1941.05 943.2L1937 947.25L1927 949.65ZM1932.95 943.2L1937 939.15L1937.3 939.08L1941.35 943.13L1937.3 947.18L1937 947.25Z"/>
<clipPath id="clip-green" clipPathUnits="userSpaceOnUse"><rect x="125.7" y="0" width="1825.3" height="1557"/></clipPath>
<path fill="#00AB68" clip-path="url(#clip-green)" d="M121.65 469.29L125.7 465.24L129.75 469.29L129.95 470L125.9 474.05L121.85 470ZM121.85 470L125.9 465.95L129.95 470L137.95 497.9L133.9 501.95L129.85 497.9ZM129.85 497.9L133.9 493.85L137.95 497.9L147.25 527.8L143.2 531.85L139.15 527.8ZM139.15 527.8L143.2 523.75L147.25 527.8L159.85 571.7L155.8 575.75L151.75 571.7ZM151.75 571.7L155.8 567.65L159.85 571.7L171.85 603.6L167.8 607.65L163.75 603.6ZM163.75 603.6L167.8 599.55L171.85 603.6L183.85 629.5L179.8 633.55L175.75 629.5ZM175.75 629.5L179.8 625.45L183.85 629.5L191.75 643.4L187.7 647.45L183.65 643.4ZM183.65 643.4L187.7 639.35L191.75 643.4L194.05 646.4L190 650.45L185.95 646.4ZM185.95 646.4L190 642.35L194.05 646.4L206.85 663.8L202.8 667.85L198.75 663.8ZM198.75 663.8L202.8 659.75L206.85 663.8L219.75 683.4L215.7 687.45L211.65 683.4ZM211.65 683.4L215.7 679.35L228.5 690.55L232.55 694.6L228.5 698.65L215.7 687.45ZM224.45 694.6L228.5 690.55L241.4 700.85L245.45 704.9L241.4 708.95L228.5 698.65ZM237.35 704.9L241.4 700.85L254.2 713.35L258.25 717.4L254.2 721.45L241.4 708.95ZM250.15 717.4L254.2 713.35L267.1 723.65L271.15 727.7L267.1 731.75L254.2 721.45ZM263.05 727.7L267.1 723.65L279.9 731.05L283.95 735.1L279.9 739.15L267.1 731.75ZM275.85 735.1L279.9 731.05L290 736.15L294.05 740.2L290 744.25L279.9 739.15ZM285.95 740.2L290 736.15L295.7 740.15L299.75 744.2L295.7 748.25L290 744.25ZM291.65 744.2L295.7 740.15L305.3 744.95L309.35 749L305.3 753.05L295.7 748.25ZM301.25 749L305.3 744.95L308.5 747.25L312.55 751.3L308.5 755.35L305.3 753.05ZM304.45 751.3L308.5 747.25L329.7 747.25L333.75 751.3L329.7 755.35L308.5 755.35ZM325.65 751.3L329.7 747.25L340.7 744.45L344.75 748.5L340.7 752.55L329.7 755.35ZM336.65 748.5L340.7 744.45L352.8 739.85L356.85 743.9L352.8 747.95L340.7 752.55ZM348.75 743.9L352.8 739.85L365.7 732.05L369.75 736.1L365.7 740.15L352.8 747.95ZM361.65 736.1L365.7 732.05L378.5 722.15L382.55 726.2L378.5 730.25L365.7 740.15ZM374.45 726.2L378.5 722.15L391.4 713.15L395.45 717.2L391.4 721.25L378.5 730.25ZM387.35 717.2L400.15 703.4L404.2 699.35L408.25 703.4L395.45 717.2L391.4 721.25ZM400.15 703.4L413.05 688.6L417.1 684.55L421.15 688.6L408.25 703.4L404.2 707.45ZM413.05 688.6L425.85 674.8L429.9 670.75L433.95 674.8L421.15 688.6L417.1 692.65ZM425.85 674.8L435.95 664.6L440 660.55L444.05 664.6L433.95 674.8L429.9 678.85ZM435.95 664.6L448.75 650.9L452.8 646.85L456.85 650.9L444.05 664.6L440 668.65ZM448.75 650.9L452.8 646.85L465.7 635.35L469.75 639.4L465.7 643.45L452.8 654.95ZM461.65 639.4L465.7 635.35L478.5 624.75L482.55 628.8L478.5 632.85L465.7 643.45ZM474.45 628.8L478.5 624.75L491.4 612.55L495.45 616.6L491.4 620.65L478.5 632.85ZM487.35 616.6L491.4 612.55L504.2 599.95L508.25 604L504.2 608.05L491.4 620.65ZM500.15 604L504.2 599.95L517.1 587.75L521.15 591.8L517.1 595.85L504.2 608.05ZM513.05 591.8L517.1 587.75L529.9 575.25L533.95 579.3L529.9 583.35L517.1 595.85ZM525.85 579.3L535.95 568.5L540 564.45L544.05 568.5L533.95 579.3L529.9 583.35ZM535.95 568.5L540 564.45L552.8 553.95L556.85 558L552.8 562.05L540 572.55ZM548.75 558L561.65 542.3L565.7 538.25L569.75 542.3L556.85 558L552.8 562.05ZM561.65 542.3L565.7 538.25L578.5 527.35L582.55 531.4L578.5 535.45L565.7 546.35ZM574.45 531.4L578.5 527.35L591.4 517.05L595.45 521.1L591.4 525.15L578.5 535.45ZM587.35 521.1L591.4 517.05L604.2 505.85L608.25 509.9L604.2 513.95L591.4 525.15ZM600.15 509.9L604.2 505.85L617.1 496.55L621.15 500.6L617.1 504.65L604.2 513.95ZM613.05 500.6L617.1 496.55L629.9 488.75L633.95 492.8L629.9 496.85L617.1 504.65ZM625.85 492.8L629.9 488.75L640 483.45L644.05 487.5L640 491.55L629.9 496.85ZM635.95 487.5L640 483.45L650 473.75L654.05 477.8L650 481.85L640 491.55ZM645.95 477.8L650 473.75L659.9 463.85L663.95 467.9L650 481.85ZM655.85 467.9L659.9 463.85L669.9 454.35L673.95 458.4L669.9 462.45L659.9 471.95ZM665.85 458.4L669.9 454.35L674.9 451.35L678.95 455.4L674.9 459.45L669.9 462.45ZM670.85 455.4L674.9 451.35L686.9 449.85L690.95 453.9L686.9 457.95L674.9 459.45ZM682.85 453.9L686.9 449.85L704.8 447.85L708.85 451.9L704.8 455.95L686.9 457.95ZM700.75 451.9L704.8 447.85L711.8 442.35L715.85 446.4L711.8 450.45L704.8 455.95ZM707.75 446.4L711.8 442.35L717.8 438.35L721.85 442.4L717.8 446.45L711.8 450.45ZM713.75 442.4L717.8 438.35L732.7 438.35L736.75 442.4L732.7 446.45L717.8 446.45ZM728.65 442.4L732.7 438.35L749.7 441.35L753.75 445.4L749.7 449.45L732.7 446.45ZM745.65 445.4L749.7 441.35L762.6 443.35L766.65 447.4L762.6 451.45L749.7 449.45ZM758.55 447.4L762.6 443.35L777.6 448.35L781.65 452.4L777.6 456.45L762.6 451.45ZM773.55 452.4L777.6 448.35L787.6 453.85L791.65 457.9L787.6 461.95L777.6 456.45ZM783.55 457.9L787.6 453.85L791.65 457.9L798.55 464.9L794.5 468.95L790.45 464.9ZM790.45 464.9L794.5 460.85L809.5 462.35L813.55 466.4L809.5 470.45L794.5 468.95ZM805.45 466.4L809.5 462.35L819.5 467.75L823.55 471.8L819.5 475.85L809.5 470.45ZM815.45 471.8L819.5 467.75L829.4 474.75L833.45 478.8L829.4 482.85L819.5 475.85ZM825.35 478.8L829.4 474.75L840 480.75L844.05 484.8L840 488.85L829.4 482.85ZM835.95 484.8L840 480.75L858.9 481.25L862.95 485.3L858.9 489.35L840 488.85ZM854.85 485.3L858.9 481.25L869.4 479.25L873.45 483.3L869.4 487.35L858.9 489.35ZM865.35 483.3L869.4 479.25L885.9 479.95L889.95 484L885.9 488.05L869.4 487.35ZM881.85 484L885.9 479.95L899.9 481.55L903.95 485.6L899.9 489.65L885.9 488.05ZM895.85 485.6L899.9 481.55L915.8 478.55L919.85 482.6L915.8 486.65L899.9 489.65ZM911.75 482.6L915.8 478.55L929.8 470.55L933.85 474.6L929.8 478.65L915.8 486.65ZM925.75 474.6L929.8 470.55L959.7 465.55L963.75 469.6L959.7 473.65L929.8 478.65ZM955.65 469.6L959.7 465.55L977.6 457.55L981.65 461.6L977.6 465.65L959.7 473.65ZM973.55 461.6L977.6 457.55L997.6 444.65L1001.65 448.7L997.6 452.75L977.6 465.65ZM993.55 448.7L997.6 444.65L1019.5 430.65L1023.55 434.7L1019.5 438.75L997.6 452.75ZM1015.45 434.7L1019.5 430.65L1035.5 426.65L1039.55 430.7L1035.5 434.75L1019.5 438.75ZM1031.45 430.7L1035.5 426.65L1051.4 421.25L1055.45 425.3L1051.4 429.35L1035.5 434.75ZM1047.35 425.3L1051.4 421.25L1065.4 413.75L1069.45 417.8L1065.4 421.85L1051.4 429.35ZM1061.35 417.8L1065.4 413.75L1087.3 408.75L1091.35 412.8L1087.3 416.85L1065.4 421.85ZM1083.25 412.8L1087.3 408.75L1099.3 402.75L1103.35 406.8L1099.3 410.85L1087.3 416.85ZM1095.25 406.8L1099.3 402.75L1111.2 394.15L1115.25 398.2L1111.2 402.25L1099.3 410.85ZM1107.15 398.2L1111.2 394.15L1129.2 392.15L1133.25 396.2L1129.2 400.25L1111.2 402.25ZM1125.15 396.2L1129.2 392.15L1147.1 391.75L1151.15 395.8L1147.1 399.85L1129.2 400.25ZM1143.05 395.8L1147.1 391.75L1155.1 396.15L1159.15 400.2L1155.1 404.25L1147.1 399.85ZM1151.05 400.2L1155.1 396.15L1195 396.15L1199.05 400.2L1195 404.25L1155.1 404.25ZM1190.95 400.2L1195 396.15L1207 399.35L1211.05 403.4L1207 407.45L1195 404.25ZM1202.95 403.4L1207 399.35L1218.9 408.75L1222.95 412.8L1218.9 416.85L1207 407.45ZM1214.85 412.8L1218.9 408.75L1230.9 414.75L1234.95 418.8L1230.9 422.85L1218.9 416.85ZM1226.85 418.8L1230.9 414.75L1249.4 415.95L1253.45 420L1249.4 424.05L1230.9 422.85ZM1245.35 420L1249.4 415.95L1261.9 421.25L1265.95 425.3L1261.9 429.35L1249.4 424.05ZM1257.85 425.3L1261.9 421.25L1299.8 420.65L1303.85 424.7L1299.8 428.75L1261.9 429.35ZM1295.75 424.7L1299.8 420.65L1311.8 416.15L1315.85 420.2L1311.8 424.25L1299.8 428.75ZM1307.75 420.2L1311.8 416.15L1359.6 416.15L1363.65 420.2L1359.6 424.25L1311.8 424.25ZM1355.55 420.2L1359.6 416.15L1371.6 418.75L1375.65 422.8L1371.6 426.85L1359.6 424.25ZM1367.55 422.8L1371.6 418.75L1385.6 413.75L1389.65 417.8L1385.6 421.85L1371.6 426.85ZM1381.55 417.8L1385.6 413.75L1395.5 415.35L1399.55 419.4L1395.5 423.45L1385.6 421.85ZM1391.45 419.4L1395.5 415.35L1429.4 429.65L1433.45 433.7L1429.4 437.75L1395.5 423.45ZM1425.35 433.7L1429.4 429.65L1447.4 430.65L1451.45 434.7L1447.4 438.75L1429.4 437.75ZM1443.35 434.7L1447.4 430.65L1463.3 433.25L1467.35 437.3L1463.3 441.35L1447.4 438.75ZM1459.25 437.3L1463.3 433.25L1475.3 435.65L1479.35 439.7L1475.3 443.75L1463.3 441.35ZM1471.25 439.7L1475.3 435.65L1491.2 442.65L1495.25 446.7L1491.2 450.75L1475.3 443.75ZM1487.15 446.7L1491.2 442.65L1513.2 442.65L1517.25 446.7L1513.2 450.75L1491.2 450.75ZM1509.15 446.7L1513.2 442.65L1525.1 447.65L1529.15 451.7L1525.1 455.75L1513.2 450.75ZM1521.05 451.7L1525.1 447.65L1537.1 454.55L1541.15 458.6L1537.1 462.65L1525.1 455.75ZM1533.05 458.6L1537.1 454.55L1567 455.55L1571.05 459.6L1567 463.65L1537.1 462.65ZM1562.95 459.6L1567 455.55L1585 456.55L1589.05 460.6L1585 464.65L1567 463.65ZM1580.95 460.6L1585 456.55L1602.9 465.55L1606.95 469.6L1602.9 473.65L1585 464.65ZM1598.85 469.6L1602.9 465.55L1619.9 476.75L1623.95 480.8L1619.9 484.85L1602.9 473.65ZM1615.85 480.8L1619.9 476.75L1649.9 489.75L1653.95 493.8L1649.9 497.85L1619.9 484.85ZM1645.85 493.8L1649.9 489.75L1673.8 511.65L1677.85 515.7L1673.8 519.75L1649.9 497.85ZM1669.75 515.7L1673.8 511.65L1695.7 524.65L1699.75 528.7L1695.7 532.75L1673.8 519.75ZM1691.65 528.7L1695.7 524.65L1717.6 541.55L1721.65 545.6L1717.6 549.65L1695.7 532.75ZM1713.55 545.6L1717.6 541.55L1739.6 557.55L1743.65 561.6L1739.6 565.65L1717.6 549.65ZM1735.55 561.6L1739.6 557.55L1767.5 558.55L1771.55 562.6L1767.5 566.65L1739.6 565.65ZM1763.45 562.6L1767.5 558.55L1771.55 562.6L1785.55 577.5L1781.5 581.55L1777.45 577.5ZM1777.45 577.5L1781.5 573.45L1801.4 583.45L1805.45 587.5L1801.4 591.55L1781.5 581.55ZM1797.35 587.5L1801.4 583.45L1819.3 594.45L1823.35 598.5L1819.3 602.55L1801.4 591.55ZM1815.25 598.5L1819.3 594.45L1839.3 610.35L1843.35 614.4L1839.3 618.45L1819.3 602.55ZM1835.25 614.4L1839.3 610.35L1859.2 618.35L1863.25 622.4L1859.2 626.45L1839.3 618.45ZM1855.15 622.4L1859.2 618.35L1863.25 622.4L1877.25 637.3L1873.2 641.35L1869.15 637.3ZM1869.15 637.3L1873.2 633.25L1887.1 639.25L1891.15 643.3L1887.1 647.35L1873.2 641.35ZM1883.05 643.3L1887.1 639.25L1905.1 639.25L1909.15 643.3L1905.1 647.35L1887.1 647.35ZM1901.05 643.3L1905.1 639.25L1919 644.85L1923.05 648.9L1919 652.95L1905.1 647.35ZM1914.95 648.9L1919 644.85L1935 644.25L1939.05 648.3L1935 652.35L1919 652.95ZM1930.95 648.3L1935 644.25L1949 639.25L1953.05 643.3L1949 647.35L1935 652.35ZM1944.95 643.3L1949 639.25L1951 638.54L1955.05 642.59L1951 646.64L1949 647.35Z"/>
</g>
<g stroke="#000" fill="none" stroke-dasharray="22.8 21.95">
<line x1="719.6" y1="448.3" x2="719.6" y2="1310.5" stroke-width="5.2"/>
<line x1="1584.6" y1="462.3" x2="1584.6" y2="1318.5" stroke-width="2.8" stroke="#777"/>
<line x1="1587.3" y1="462.3" x2="1587.3" y2="1318.5" stroke-width="2.9"/>
</g>
<g stroke-width="8.0" fill="none">
<line x1="136.6" y1="76.8" x2="300.1" y2="76.8" stroke="#505050"/>
<line x1="136.6" y1="180.6" x2="300.1" y2="180.6" stroke="#FC3E3E"/>
<line x1="136.6" y1="285.0" x2="300.1" y2="285.0" stroke="#006DDD"/>
<line x1="136.6" y1="389.8" x2="300.1" y2="389.8" stroke="#00AB68"/>
</g>
<text class="leg" x="316.9" y="100.3" font-size="70.3" clip-path="url(#nofoot)">SiO<tspan font-size="47.5" dy="19">2</tspan><tspan dy="-19">imi</tspan></text>
<text class="leg" x="316.9" y="204.2" font-size="70.3" clip-path="url(#nofoot)">SiO<tspan font-size="47.5" dy="19">2</tspan><tspan dy="-19">imi-PW</tspan><tspan font-size="47.5" dy="19">12</tspan></text>
<text class="leg" x="316.9" y="308.0" font-size="70.3" clip-path="url(#nofoot)">SiO<tspan font-size="47.5" dy="19">2</tspan><tspan dy="-19">imiSO</tspan><tspan font-size="47.5" dy="19">3</tspan></text>
<text class="leg" x="316.9" y="411.9" font-size="70.3" clip-path="url(#nofoot)">SiO<tspan font-size="47.5" dy="19">2</tspan><tspan dy="-19">imiSO</tspan><tspan font-size="47.5" dy="19">3</tspan><tspan dy="-19">-PW</tspan><tspan font-size="47.5" dy="19">12</tspan></text>
<g font-size="70" clip-path="url(#nofoot)">
<text class="tick" x="86.38" y="1425.3"><tspan dx="1.5">1</tspan><tspan dx="-1.5">0</tspan></text>
<text class="tick" x="390.26" y="1425.3"><tspan dx="1.5">1</tspan><tspan dx="-1.5">5</tspan></text>
<text class="tick" x="694.14" y="1425.3">20</text>
<text class="tick" x="998.02" y="1425.3">25</text>
<text class="tick" x="1301.90" y="1425.3">30</text>
<text class="tick" x="1605.78" y="1425.3">35</text>
<text class="tick" x="1909.66" y="1425.3">40</text>
</g>
<text x="1037.0" y="1523.2" font-size="70" text-anchor="middle">2<tspan font-family="'Liberation Serif',serif" font-weight="normal">Θ</tspan> (degree)</text>
<text transform="translate(74.2 677.4) rotate(-90) scale(0.965 1)" font-size="72" text-anchor="middle" stroke="#fff" stroke-width="0.4" paint-order="fill stroke">Intensity (a.u.)</text>
</svg></body></html>
